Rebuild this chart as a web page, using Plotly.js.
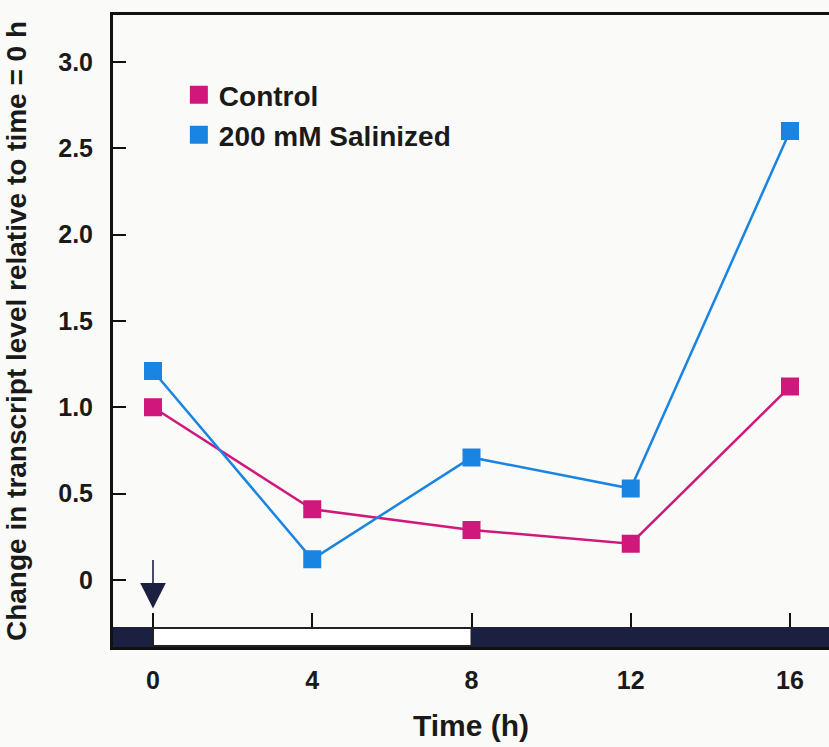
<!DOCTYPE html>
<html>
<head>
<meta charset="utf-8">
<script src="https://cdn.plot.ly/plotly-3.0.1.min.js"></script>
<style>html,body{margin:0;padding:0;background:#fafaf8;}#chart{width:829px;height:747px;}</style>
</head>
<body>
<div id="chart"></div>
<script>
// Data
var timeH = [0, 4, 8, 12, 16];
var controlVals = [1.0, 0.41, 0.29, 0.21, 1.12];
var salinizedVals = [1.21, 0.12, 0.71, 0.53, 2.60];
var seriesNames = ['Control', '200 mM Salinized'];
var xTickVals = [0, 4, 8, 12, 16];
var xTickText = ['0', '4', '8', '12', '16'];
var yTickVals = [0, 0.5, 1.0, 1.5, 2.0, 2.5, 3.0];
var yTickText = ['0', '0.5', '1.0', '1.5', '2.0', '2.5', '3.0'];
// light/dark periods (h)
var darkBefore = [-1.005, 0];
var lightPeriod = [0, 8];
var darkAfter = [8, 16.98];

var cCtrl = '#d0187c';
var cSal = '#1a84e2';
var navy = '#1b2040';
var fontFam = 'Liberation Sans, Arial, Helvetica, sans-serif';
var txt = '#1a1a1a';

var traces = [
  {x: timeH, y: controlVals, mode: 'lines', line: {color: cCtrl, width: 2.5}, showlegend: false, hoverinfo: 'skip'},
  {x: timeH, y: salinizedVals, mode: 'lines', line: {color: cSal, width: 2.5}, showlegend: false, hoverinfo: 'skip'},
  {x: timeH, y: controlVals, mode: 'markers', name: seriesNames[0], legend: 'legend',
   marker: {symbol: 'square', size: 16, color: cCtrl, line: {color: cCtrl, width: 2}}},
  {x: timeH, y: salinizedVals, mode: 'markers', name: seriesNames[1], legend: 'legend2',
   marker: {symbol: 'square', size: 16, color: cSal, line: {color: cSal, width: 2}}}
];

var layout = {
  width: 829, height: 747,
  margin: {l: 113, r: 0, t: 15, b: 100},
  paper_bgcolor: '#fafaf8', plot_bgcolor: '#fafaf8',
  font: {family: fontFam, color: txt, weight: 'bold'},
  xaxis: {
    range: [darkBefore[0], darkAfter[1]],
    tickvals: xTickVals, ticktext: xTickText,
    ticks: 'inside', ticklen: 34, tickwidth: 2, tickcolor: '#111',
    ticklabelstandoff: 9,
    showline: true, mirror: true, linewidth: 3, linecolor: '#111',
    showgrid: false, zeroline: false,
    tickfont: {size: 25, family: fontFam, weight: 'bold', color: txt},
    title: {text: 'Time (h)', font: {size: 30, family: fontFam, weight: 'bold', color: txt}, standoff: 22}
  },
  yaxis: {
    range: [-0.388, 3.272],
    tickvals: yTickVals, ticktext: yTickText,
    ticks: 'inside', ticklen: 13, tickwidth: 2, tickcolor: '#111',
    ticklabelstandoff: 12,
    showline: true, linewidth: 3, linecolor: '#111',
    showgrid: false, zeroline: false,
    tickfont: {size: 25, family: fontFam, weight: 'bold', color: txt},
    title: {text: 'Change in transcript level relative to time = 0 h', font: {size: 28, family: fontFam, weight: 'bold', color: txt}, standoff: 24}
  },
  legend: {x: 0.092, y: 0.8734, xanchor: 'left', yanchor: 'middle', bgcolor: 'rgba(0,0,0,0)',
    font: {size: 28, family: fontFam, weight: 'bold', color: txt}},
  legend2: {x: 0.092, y: 0.810, xanchor: 'left', yanchor: 'middle', bgcolor: 'rgba(0,0,0,0)',
    font: {size: 28, family: fontFam, weight: 'bold', color: txt}},
  shapes: [
    {type: 'rect', xref: 'x', yref: 'y', x0: darkBefore[0], x1: darkBefore[1], y0: -0.388, y1: -0.272,
     fillcolor: navy, line: {width: 0}, layer: 'above'},
    {type: 'rect', xref: 'x', yref: 'y', x0: lightPeriod[0], x1: lightPeriod[1], y0: -0.382, y1: -0.278,
     fillcolor: '#ffffff', line: {width: 2, color: '#222'}, layer: 'above'},
    {type: 'rect', xref: 'x', yref: 'y', x0: darkAfter[0], x1: darkAfter[1], y0: -0.388, y1: -0.272,
     fillcolor: navy, line: {width: 0}, layer: 'above'}
  ],
  annotations: [
    {x: 0, y: -0.165, xref: 'x', yref: 'y', ax: 0, ay: -50, axref: 'pixel', ayref: 'pixel',
     showarrow: true, arrowhead: 2, arrowsize: 3.2, arrowwidth: 1.6, arrowcolor: navy, text: ''}
  ]
};

Plotly.newPlot('chart', traces, layout, {staticPlot: true, displayModeBar: false});
</script>
</body>
</html>
